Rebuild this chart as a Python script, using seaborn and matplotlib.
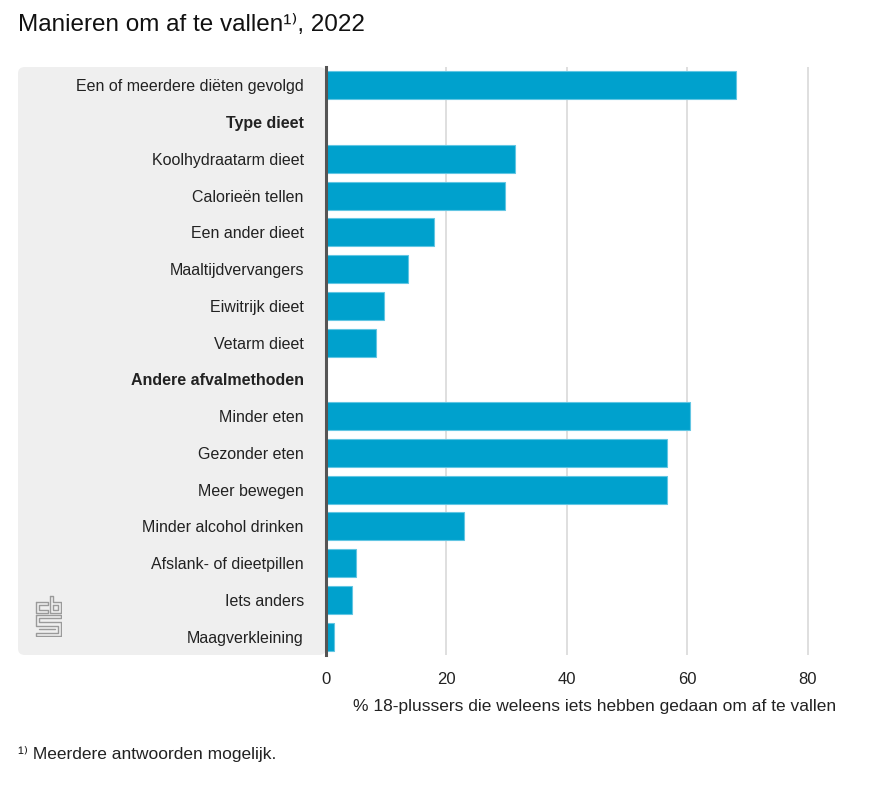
import numpy as np
import pandas as pd
import matplotlib
matplotlib.use("Agg")
import matplotlib.pyplot as plt
from matplotlib.patches import FancyBboxPatch
import seaborn as sns

# data
categories = [
    "Een of meerdere diëten gevolgd",
    "Type dieet",
    "Koolhydraatarm dieet",
    "Calorieën tellen",
    "Een ander dieet",
    "Maaltijdvervangers",
    "Eiwitrijk dieet",
    "Vetarm dieet",
    "Andere afvalmethoden",
    "Minder eten",
    "Gezonder eten",
    "Meer bewegen",
    "Minder alcohol drinken",
    "Afslank- of dieetpillen",
    "Iets anders",
    "Maagverkleining",
]
values = [68.1, np.nan, 31.3, 29.7, 17.9, 13.6, 9.6, 8.3,
          np.nan, 60.5, 56.6, 56.6, 22.9, 5.0, 4.3, 1.3]
headers = ["Type dieet", "Andere afvalmethoden"]
xticks = [0, 20, 40, 60, 80]

df = pd.DataFrame({"categorie": categories, "pct": values})

sns.set_theme(style="white")
plt.rcParams["font.family"] = ["Liberation Sans", "DejaVu Sans"]

W, H = 874, 801
fig = plt.figure(figsize=(W / 100, H / 100), dpi=100)
ax_left, ax_right, ax_top, ax_bot = 326, 832, 67, 655
ax = fig.add_axes([ax_left / W, 1 - ax_bot / H,
                   (ax_right - ax_left) / W, (ax_bot - ax_top) / H])

# grey label panel behind the category names
panel = FancyBboxPatch((18 / W, 1 - ax_bot / H), (ax_left - 18) / W, (ax_bot - ax_top) / H,
                       boxstyle="round,pad=0,rounding_size=0.008",
                       transform=fig.transFigure, facecolor="#efefef",
                       edgecolor="none", zorder=-5)
fig.patches.append(panel)
ax.set_facecolor("none")

sns.barplot(data=df, y="categorie", x="pct", orient="h", ax=ax,
            color="#00a1cd", saturation=1, width=0.76,
            edgecolor="#62c6e3", linewidth=0.8, zorder=3)

ax.set_xlim(0, 84)
ax.set_xticks(xticks)
ax.set_xticklabels([str(t) for t in xticks], fontsize=12, color="#222222")
ax.tick_params(axis="x", length=0, pad=12)
ax.tick_params(axis="y", length=0, pad=16)
ax.xaxis.grid(True, color="#d9d9d9", linewidth=1.2, zorder=0)
ax.yaxis.grid(False)
ax.set_axisbelow(True)
ax.set_ylabel("")
ax.set_xlabel("")

for lab in ax.get_yticklabels():
    lab.set_fontsize(11.5)
    lab.set_color("#222222")
    if lab.get_text() in headers:
        lab.set_fontweight("bold")

for side in ["top", "right", "bottom"]:
    ax.spines[side].set_visible(False)
ax.spines["left"].set_color("#555555")
ax.spines["left"].set_linewidth(2.2)
ax.spines["left"].set_zorder(5)

# axis title, chart title and footnote
fig.text(836 / W, 1 - 707 / H,
         "% 18-plussers die weleens iets hebben gedaan om af te vallen",
         fontsize=12.5, color="#222222", va="center", ha="right")
fig.text(18 / W, 1 - 25 / H, "Manieren om af te vallen\u00b9\u207e, 2022",
         fontsize=17.5, color="#111111", va="center", ha="left")
fig.text(18 / W, 1 - 754 / H, "\u00b9\u207e Meerdere antwoorden mogelijk.",
         fontsize=12.5, color="#222222", va="center", ha="left")

# simplified cbs logo
lx, ly = 35, 595
logo = fig.add_axes([lx / W, 1 - (ly + 42) / H, 27 / W, 42 / H])
logo.axis("off")
logo.set_xlim(0, 27)
logo.set_ylim(42, 0)
g = "#9a9a9a"
segs = [
    # c
    [(1, 7), (13, 7), (13, 10), (4, 10), (4, 15), (13, 15), (13, 18), (1, 18), (1, 7)],
    # b
    [(15, 1), (18, 1), (18, 7), (26, 7), (26, 18), (15, 18), (15, 1)],
    [(18, 10), (23, 10), (23, 15), (18, 15), (18, 10)],
    # s
    [(1, 20), (26, 20), (26, 23), (4, 23), (4, 27), (26, 27), (26, 41), (1, 41), (1, 38),
     (23, 38), (23, 31), (1, 31), (1, 20)],
    [(4, 34), (20, 34)],
]
for s in segs:
    xs, ys = zip(*s)
    logo.plot(xs, ys, color=g, linewidth=1.0)

fig.savefig("out.png", dpi=100, facecolor="white")
